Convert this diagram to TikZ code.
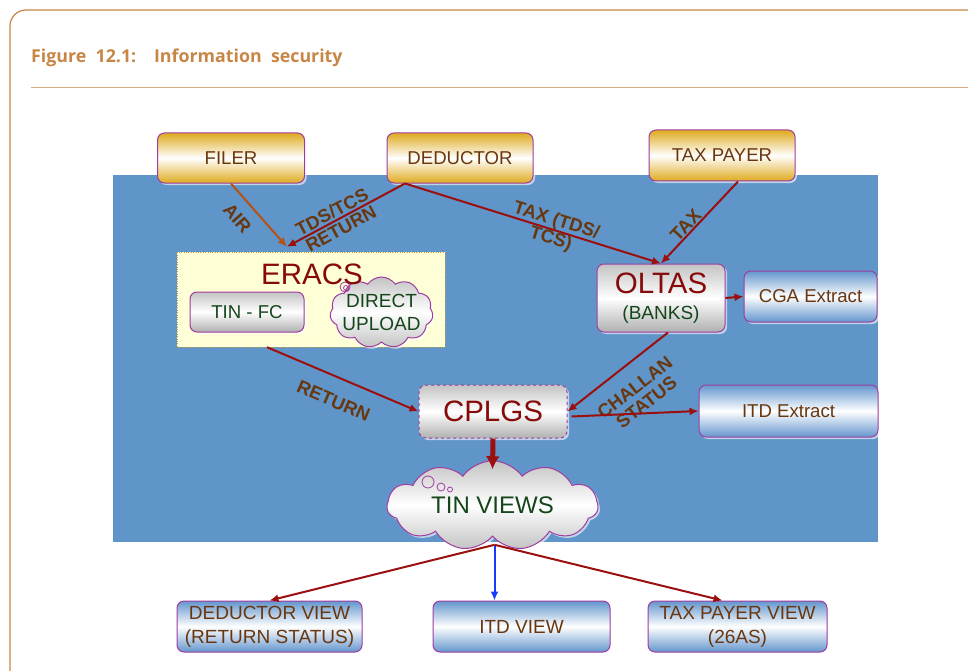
\documentclass[tikz,border=0pt]{standalone}
\usepackage{fontspec}
\setmainfont{Liberation Sans}
\newfontfamily\titlefont{Open Sans}
\usetikzlibrary{arrows.meta,shapes.symbols,shadows,calc}

\definecolor{bgblue}{RGB}{95,149,200}
\definecolor{frametan}{RGB}{200,134,70}
\definecolor{gold}{RGB}{222,170,30}
\definecolor{edge}{RGB}{160,60,160}
\definecolor{arrowred}{RGB}{155,15,15}
\definecolor{airbrown}{RGB}{185,80,20}
\definecolor{arrowblue}{RGB}{20,60,255}
\definecolor{txtbrown}{RGB}{105,55,15}
\definecolor{txtred}{RGB}{135,10,10}
\definecolor{txtgreen}{RGB}{20,70,25}
\definecolor{paleyellow}{RGB}{255,255,215}
\definecolor{dotgold}{RGB}{200,160,50}
\definecolor{boxgray}{RGB}{195,195,195}
\definecolor{boxblue}{RGB}{100,150,205}

\tikzset{
  halo/.style={drop shadow={shadow xshift=2pt,shadow yshift=-2pt,fill=white,opacity=0.6}},
  base/.style={draw=edge,line width=1pt,rounded corners=7pt,inner sep=2pt,align=center,
    halo,font=\fontsize{18.6}{23}\selectfont,text=txtbrown},
  goldbox/.style={base,top color=gold,bottom color=gold,middle color=white},
  graybox/.style={base,top color=boxgray,bottom color=boxgray!90!black,middle color=white},
  bluebox/.style={base,top color=boxblue,bottom color=boxblue,middle color=white},
  puff/.style={cloud,cloud puffs=11,cloud puff arc=110,aspect=2.6,draw=edge,line width=1pt,
    inner sep=0pt,top color=boxgray,bottom color=boxgray,middle color=white,halo,
    text=txtgreen,align=center},
  flow/.style={draw=arrowred,line width=2pt,-{Latex[length=9pt,width=8pt]}},
  lbl/.style={font=\bfseries\fontsize{18.5}{19}\selectfont,text=txtbrown,align=center,inner sep=1pt},
}

\begin{document}
\begin{tikzpicture}[x=1pt,y=-1pt]
  \useasboundingbox (0,0) rectangle (968,671);

  % frame and title
  \draw[frametan,line width=1.2pt,rounded corners=16pt] (10,671) -- (10,10) -- (968,10);
  \node[anchor=base west,font=\titlefont\bfseries\fontsize{17.8}{20}\selectfont,text=frametan,inner sep=0pt]
    (title) at (31,63) {Figure\ \ 12.1:\quad Information\ \ security};
  \draw[frametan!70!white,line width=1pt] (31,88) -- (968,88);

  \fill[bgblue] (113,175) rectangle (878,542);

  % sources
  \node[goldbox,minimum width=147pt,minimum height=50pt] (filer) at (231,158) {FILER};
  \node[goldbox,minimum width=146pt,minimum height=50pt] (deductor) at (460,158) {DEDUCTOR};
  \node[goldbox,minimum width=146pt,minimum height=51pt] (taxpayer) at (722,155.5) {TAX PAYER};

  % eracs
  \node[draw=dotgold,dotted,fill=paleyellow,minimum width=268pt,minimum height=95pt] (eracs) at (311,299.5) {};
  \node[graybox,text=txtgreen,minimum width=114pt,minimum height=40pt] (tinfc) at (247,312) {TIN - FC};
  \node[puff,inner sep=-7pt,font=\fontsize{19}{23}\selectfont,minimum width=103pt,minimum height=71pt] (upload) at (381.5,312.5) {DIRECT\\UPLOAD};
  \draw[edge,line width=0.8pt] (345,287) circle[radius=5] (346,288) circle[radius=2.5];
  \node[font=\fontsize{29.5}{30}\selectfont,text=txtred,inner sep=0pt] (eracstitle) at (312,274) {ERACS};

  \node[graybox,minimum width=128pt,minimum height=68pt] (oltas) at (661,298)
    {{\fontsize{29.5}{30}\selectfont\color{txtred}OLTAS}\\[3pt]{\fontsize{19}{23}\selectfont\color{txtgreen}(BANKS)}};
  \node[bluebox,minimum width=133pt,minimum height=51pt] (cga) at (810.5,296.5) {CGA Extract};
  \node[graybox,dashed,font=\fontsize{29.5}{30}\selectfont,text=txtred,minimum width=148pt,minimum height=53pt] (cplgs) at (493,411.5) {CPLGS};
  \node[bluebox,minimum width=179pt,minimum height=52pt] (itdx) at (788.5,411) {ITD Extract};
  \node[puff,font=\fontsize{24}{26}\selectfont,minimum width=211pt,minimum height=75pt] (tinviews) at (492.5,505.5) {TIN VIEWS};
  \draw[edge,line width=0.8pt] (428,482) circle[radius=6] (441,487) circle[radius=4] (450,489.5) circle[radius=2.5];

  % views
  \foreach \name/\x/\w/\txt in {dview/269.5/185/{DEDUCTOR VIEW\\(RETURN STATUS)},
      itdview/521.5/177/{ITD VIEW}, tpview/737.5/179/{TAX PAYER VIEW\\(26AS)}}
    \node[bluebox,font=\fontsize{19}{24}\selectfont,minimum width=\w pt,minimum height=51pt] (\name) at (\x,626.5) {\txt};

  % connectors
  \coordinate (dedout) at ($(deductor.south)+(-55,0)$);
  \coordinate (eracsin) at ($(eracs.north west)+(110,-5)$);
  \coordinate (tpout) at ($(taxpayer.south)+(16,0)$);
  \coordinate (eracsout) at ($(eracs.south)+(-44,0)$);
  \coordinate (fan) at ($(tinviews.south)+(2,8)$);

  \draw[flow,draw=airbrown] (filer.south) -- node[lbl,sloped,below=10pt,pos=0.36] {AIR} (eracsin);
  \draw[flow] (dedout) -- node[lbl,sloped,pos=0.58] {TDS/TCS\\RETURN} (eracsin);
  \draw[flow] (dedout) -- node[lbl,sloped,pos=0.58] {TAX (TDS/\\TCS)} (oltas.north);
  \draw[flow] (tpout) -- node[lbl,sloped,above,pos=0.6] {TAX} (oltas.north);
  \draw[flow] (oltas.east) -- (cga.west);
  \draw[flow] (eracsout) -- node[lbl,sloped,below=15pt,pos=0.5] {RETURN} (cplgs.west);
  \draw[flow] ($(oltas.south)+(7,0)$) -- node[lbl,sloped,below=14pt,pos=0.47] {CHALLAN\\STATUS} (cplgs.east);
  \draw[flow] ($(cplgs.east)+(4,5)$) -- (itdx.west);
  \draw[draw=arrowred,line width=5pt,-{Latex[length=13pt,width=14pt]}] (cplgs.south) -- ($(tinviews.north)+(0,9)$);

  \draw[flow] (fan) -- (dview.north);
  \draw[flow,draw=arrowblue,line width=2pt] (fan) -- (fan |- itdview.north);
  \draw[flow] (fan) -- ($(tpview.north)+(-15,0)$);
\end{tikzpicture}
\end{document}
